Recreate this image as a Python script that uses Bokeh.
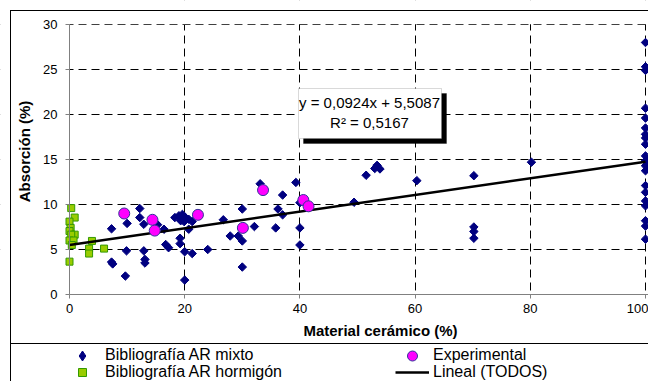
from math import pi
from bokeh.plotting import figure
from bokeh.models import (Label, BoxAnnotation, Legend, LegendItem, FixedTicker, Range1d,
                          InlineStyleSheet)
from bokeh.embed import file_html
from bokeh.resources import INLINE

# ---------------- data ----------------
mixto_x = [7.3, 7.3, 7.5, 9.7, 9.9, 10.0, 12.2, 12.2, 12.9, 12.9, 13.1, 13.1, 15.3, 16.4,
           16.7, 17.2, 18.3, 19.0, 19.6, 20.1, 20.7, 19.3, 19.9, 21.3, 20.7, 19.2, 19.2,
           20.0, 21.3, 20.0, 24.0, 26.7, 27.9, 29.3, 30.0, 30.0, 30.0, 32.1, 33.1, 35.8,
           36.2, 37.0, 37.0, 39.3, 40.0, 40.0, 40.0, 49.4, 51.5, 53.0, 53.4, 53.9, 60.3,
           70.2, 70.2, 70.2, 70.2, 80.2,
           100, 100, 100, 100, 100, 100, 100, 100, 100, 100, 100, 100, 100, 100, 100,
           100, 100, 100, 100, 100]
mixto_y = [7.3, 3.6, 3.4, 2.05, 4.85, 7.9, 9.55, 8.55, 7.8, 4.85, 3.9, 3.5, 7.75, 7.25,
           5.55, 5.2, 8.55, 8.75, 8.9, 8.55, 8.35, 8.2, 8.1, 8.1, 7.25, 6.25, 5.65,
           4.75, 4.55, 1.6, 5.0, 8.3, 6.5, 6.5, 9.5, 5.95, 3.05, 7.55, 12.3, 7.4,
           9.5, 11.05, 8.85, 12.45, 10.2, 7.4, 5.5, 10.25, 13.25, 14.0, 14.35, 13.95, 12.65,
           13.2, 7.5, 7.0, 6.25, 14.7,
           28.0, 25.3, 24.9, 20.7, 19.6, 18.5, 17.8, 17.4, 16.7, 15.4, 14.85, 14.3, 13.75,
           12.1, 11.35, 10.4, 9.85, 8.2, 7.6, 6.15]

horm_x = [0.3, 0.9, 0.0, 0.2, 0.0, 0.9, 0.3, 0.0, 0.7, 0.4, 0.0, 3.9, 3.4, 3.4, 6.0]
horm_y = [9.6, 8.55, 8.1, 7.4, 7.05, 6.65, 6.65, 6.0, 6.0, 5.5, 3.65, 5.95, 5.1, 4.55, 5.1]

exp_x = [9.5, 14.4, 14.8, 22.3, 30.1, 33.6, 40.6, 41.5]
exp_y = [9.0, 8.3, 7.1, 8.85, 7.4, 11.6, 10.5, 9.8]

trend_x = [0, 100]
trend_y = [5.51, 14.75]

x_ticks = [0, 20, 40, 60, 80, 100]
y_ticks = [0, 5, 10, 15, 20, 25, 30]
x_grid = [20, 40, 60, 80, 100]
y_grid = [5, 10, 15, 20, 25, 30]

x_title = "Material cerámico (%)"
y_title = "Absorción (%)"
eq_lines = ["y = 0,0924x + 5,5087", "R\u00b2 = 0,5167"]
legend_labels = ["Bibliografía AR mixto", "Bibliografía AR hormigón",
                 "Experimental", "Lineal (TODOS)"]

# ---------------- layout helpers ----------------
FONT = "Liberation Sans"
W, H = 648, 381
AXIS_X = 69        # canvas x of data x = 0
AXIS_Y = 294       # canvas y of data y = 0
sx = 5.76          # px per x unit
sy = 9.0           # px per y unit


def dx(cx):
    return (cx - AXIS_X) / sx


def dy(cy):
    return (AXIS_Y - cy) / sy


X_START, X_END = dx(0), dx(W)
Y_START, Y_END = dy(H), dy(0)

# crisp outer chart border lines (pure decoration)
css = """
:host { position: relative; }
:host::before { content: ""; position: absolute; left: 10px; top: 10px; right: 0; bottom: 0;
  border-left: 1px solid #000; border-top: 1px solid #000; pointer-events: none; z-index: 100; }
:host::after { content: ""; position: absolute; left: 10px; right: 0; top: 343px; height: 0;
  border-top: 1px solid #000; pointer-events: none; z-index: 100; }
"""

p = figure(width=W, height=H, output_backend="svg", toolbar_location=None,
           x_range=Range1d(X_START, X_END), y_range=Range1d(Y_START, Y_END),
           min_border=0)
p.stylesheets = [InlineStyleSheet(css=css)]
p.outline_line_color = None
p.background_fill_color = "white"
p.border_fill_color = "white"

for g, t in ((p.xgrid, x_grid), (p.ygrid, y_grid)):
    g.ticker = FixedTicker(ticks=t)
    g.grid_line_color = "black"
    g.grid_line_dash = "8 5"
    g.grid_line_width = 1

# hide grid lines outside the plot area (0..100 x 0..30)
for kw in (dict(left=X_START - 5, right=0, top=Y_END + 5, bottom=Y_START - 5),
           dict(left=0, right=X_END + 5, top=0, bottom=Y_START - 5),
           dict(left=0, right=X_END + 5, top=Y_END + 5, bottom=30.02)):
    p.add_layout(BoxAnnotation(fill_color="white", fill_alpha=1, line_color=None,
                               level="underlay", **kw))

for ax, t in ((p.xaxis, x_ticks), (p.yaxis, y_ticks)):
    ax.ticker = FixedTicker(ticks=t)
    ax.fixed_location = 0
    ax.axis_line_color = "#808080"
    ax.major_tick_line_color = "#808080"
    ax.major_tick_out = 4
    ax.major_tick_in = 0
    ax.minor_tick_line_color = None
    ax.major_label_text_font = FONT
    ax.major_label_text_font_size = "13px"
    ax.major_label_text_color = "black"
p.xaxis.bounds = (0, X_END)
p.yaxis.bounds = (0, 30)
p.yaxis.major_label_standoff = 8
p.xaxis.major_label_standoff = 5

# ---------------- data renderers ----------------
r_mix = p.scatter(mixto_x, mixto_y, marker="square", angle=pi / 4, size=6,
                  fill_color="#000080", line_color="#000080")
r_horm = p.scatter(horm_x, horm_y, marker="square", size=7,
                   fill_color="#99CC00", line_color="#339900", line_width=1)
r_line = p.line(trend_x, trend_y, line_color="black", line_width=2.5)
r_exp = p.scatter(exp_x, exp_y, marker="circle", size=11,
                  fill_color="#FF00FF", line_color="#333399", line_width=1)
# legend-only proxy (diamond swatch); its single point is NaN so nothing is plotted
r_mix_leg = p.scatter([float("nan")], [float("nan")], marker="diamond",
                      fill_color="#000080", line_color="#000080")

# ---------------- equation box ----------------
p.add_layout(BoxAnnotation(left=dx(303), right=dx(446), top=dy(93), bottom=dy(143),
                           fill_color="black", fill_alpha=1, line_color="black"))
p.add_layout(BoxAnnotation(left=dx(298), right=dx(441), top=dy(88), bottom=dy(138),
                           fill_color="white", fill_alpha=1, line_color="#808080",
                           line_width=1))
for txt, cy in zip(eq_lines, (102, 122)):
    p.add_layout(Label(x=dx(369), y=dy(cy), text=txt, text_align="center",
                       text_baseline="middle", text_font=FONT, text_font_size="15px",
                       text_color="black"))

# ---------------- axis titles ----------------
p.add_layout(Label(x=dx(380), y=dy(330), text=x_title, text_align="center",
                   text_baseline="middle", text_font=FONT, text_font_size="15px",
                   text_font_style="bold", text_color="black"))
p.add_layout(Label(x=dx(24), y=dy(151), text=y_title, angle=pi / 2, text_align="center",
                   text_baseline="middle", text_font=FONT, text_font_size="15px",
                   text_font_style="bold", text_color="black"))

# ---------------- legend ----------------


def add_legend(label, renderer, cx_left, cy_center, gw, gh, standoff):
    lg = Legend(items=[LegendItem(label=label, renderers=[renderer])],
                location=(cx_left, H - (cy_center + gh / 2)),
                orientation="vertical", glyph_width=gw, glyph_height=gh,
                label_height=gh, label_standoff=standoff, padding=0, margin=0,
                spacing=0, border_line_alpha=0, background_fill_alpha=0,
                label_text_font=FONT, label_text_font_size="16px",
                label_text_color="black")
    p.add_layout(lg)


add_legend(legend_labels[0], r_mix_leg, 67, 355, 30, 25, 8)
add_legend(legend_labels[1], r_horm, 67, 371.5, 30, 20, 8)
add_legend(legend_labels[2], r_exp, 395, 355, 34, 25, 4)
add_legend(legend_labels[3], r_line, 395, 371.5, 34, 20, 4)

open("out.html", "w").write(file_html(p, INLINE))
